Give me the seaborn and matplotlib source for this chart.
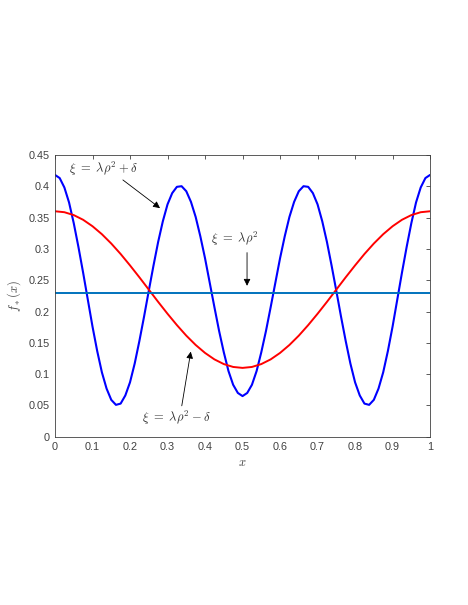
import numpy as np
import pandas as pd
import matplotlib
matplotlib.use("Agg")
import matplotlib.pyplot as plt
import seaborn as sns

# --- Data ---
# blue curve (xi = lambda rho^2 + delta), sampled every 0.0125
x_blue = [i * 0.0125 for i in range(81)]
y_blue = [0.418, 0.413, 0.398, 0.374, 0.341, 0.303, 0.262, 0.219, 0.176, 0.137,
          0.103, 0.077, 0.059, 0.051, 0.053, 0.066, 0.087, 0.117, 0.153, 0.192,
          0.233, 0.273, 0.311, 0.344, 0.371, 0.389, 0.399, 0.400, 0.392, 0.375,
          0.351, 0.320, 0.285, 0.246, 0.207, 0.169, 0.135, 0.105, 0.083, 0.070,
          0.065,
          0.070, 0.083, 0.105, 0.135, 0.169, 0.207, 0.246, 0.285, 0.320, 0.351,
          0.375, 0.392, 0.400, 0.399, 0.389, 0.371, 0.344, 0.311, 0.273, 0.233,
          0.192, 0.153, 0.117, 0.087, 0.066, 0.053, 0.051, 0.059, 0.077, 0.103,
          0.137, 0.176, 0.219, 0.262, 0.303, 0.341, 0.374, 0.398, 0.413, 0.418]

# red curve (xi = lambda rho^2 - delta), sampled every 0.025
x_red = [i * 0.025 for i in range(41)]
y_red = [0.360, 0.3585, 0.3539, 0.3464, 0.3361, 0.3234, 0.3085, 0.2918, 0.2736, 0.2546,
         0.235, 0.2154, 0.1964, 0.1783, 0.1615, 0.1466, 0.1339, 0.1236, 0.1161, 0.1115,
         0.110,
         0.1115, 0.1161, 0.1236, 0.1339, 0.1466, 0.1615, 0.1783, 0.1964, 0.2154, 0.235,
         0.2546, 0.2736, 0.2918, 0.3085, 0.3234, 0.3361, 0.3464, 0.3539, 0.3585, 0.360]

# flat curve (xi = lambda rho^2)
x_flat = [0.0, 1.0]
y_flat = [0.23, 0.23]

x_ticks = [0, 0.1, 0.2, 0.3, 0.4, 0.5, 0.6, 0.7, 0.8, 0.9, 1]
x_ticklabels = ["0", "0.1", "0.2", "0.3", "0.4", "0.5", "0.6", "0.7", "0.8", "0.9", "1"]
y_ticks = [0, 0.05, 0.1, 0.15, 0.2, 0.25, 0.3, 0.35, 0.4, 0.45]
y_ticklabels = ["0", "0.05", "0.1", "0.15", "0.2", "0.25", "0.3", "0.35", "0.4", "0.45"]

df_blue = pd.DataFrame({"x": x_blue, "y": y_blue})
df_red = pd.DataFrame({"x": x_red, "y": y_red})
df_flat = pd.DataFrame({"x": x_flat, "y": y_flat})

# --- Plot ---
sns.set_style("white")
plt.rcParams["font.family"] = ["Liberation Sans", "DejaVu Sans"]
plt.rcParams["mathtext.fontset"] = "cm"

fig = plt.figure(figsize=(4.68, 6.05), dpi=100)
ax = fig.add_axes([0.1175, 0.278, 0.8015, 0.466])

sns.lineplot(data=df_blue, x="x", y="y", color="#0000ff", linewidth=1.5, ax=ax)
sns.lineplot(data=df_red, x="x", y="y", color="#ff0000", linewidth=1.4, ax=ax)
sns.lineplot(data=df_flat, x="x", y="y", color="#0072bd", linewidth=1.4, ax=ax)

ax.set_xlim(0, 1)
ax.set_ylim(0, 0.45)
ax.set_xticks(x_ticks)
ax.set_xticklabels(x_ticklabels)
ax.set_yticks(y_ticks)
ax.set_yticklabels(y_ticklabels)
ax.tick_params(direction="in", length=3, width=0.6, colors="#404040",
               labelsize=7.8, top=True, right=True, pad=4)
for s in ax.spines.values():
    s.set_color("#404040")
    s.set_linewidth(0.6)

ax.set_xlabel("$x$", fontsize=9, color="#404040", labelpad=3)
ax.set_ylabel("$f_*(x)$", fontsize=9, color="#404040", labelpad=4)

arrow = dict(arrowstyle="-|>", color="black", lw=0.6, mutation_scale=10,
             shrinkA=0, shrinkB=0)
ax.annotate(r"$\xi\ =\ \lambda\rho^2 + \delta$", xy=(0.28, 0.365), xytext=(0.128, 0.428),
            fontsize=9, ha="center", va="center", color="#333333")
ax.annotate("", xy=(0.28, 0.365), xytext=(0.181, 0.41), arrowprops=arrow)

ax.annotate(r"$\xi\ =\ \lambda\rho^2$", xy=(0.512, 0.241), xytext=(0.48, 0.316),
            fontsize=9, ha="center", va="center", color="#333333")
ax.annotate("", xy=(0.512, 0.241), xytext=(0.512, 0.294), arrowprops=arrow)

ax.annotate(r"$\xi\ =\ \lambda\rho^2 - \delta$", xy=(0.362, 0.136), xytext=(0.324, 0.030),
            fontsize=9, ha="center", va="center", color="#333333")
ax.annotate("", xy=(0.362, 0.136), xytext=(0.338, 0.0495), arrowprops=arrow)

fig.savefig("out.png", dpi=100)
